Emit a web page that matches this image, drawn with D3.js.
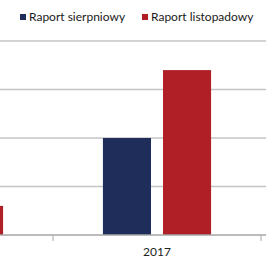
<!DOCTYPE html>
<html>
<head>
<meta charset="utf-8">
<script src="https://d3js.org/d3.v7.min.js"></script>
<style>
body {margin:0; background:#fff;}
text {font-family: Lato, "Open Sans", sans-serif;}
</style>
</head>
<body>
<svg width="266" height="266"></svg>
<script>
// data
var categories = ["2016", "2017"];
var series = ["Raport sierpniowy", "Raport listopadowy"];
var sierpniowy = [null, 2.0];
var listopadowy = [0.6, 3.4];
var yTicks = [1, 2, 3, 4];
var colors = ["#1f2d5a", "#b11f26"];

var svg = d3.select("svg");
var W = 266, baseY = 235, topY = 41;

var x0 = d3.scaleBand().domain(categories).range([-155, 261]).padding(0);
var x1 = d3.scaleBand().domain(series)
  .range([x0.bandwidth() * 0.24, x0.bandwidth() * 0.76])
  .paddingInner(0.2);
var y = d3.scaleLinear().domain([0, 4]).range([baseY, topY]);
var col = d3.scaleOrdinal().domain(series).range(colors);

// gridlines
svg.append("g").selectAll("line").data(yTicks).enter().append("line")
  .attr("x1", 0).attr("x2", W)
  .attr("y1", function(d) { return y(d); })
  .attr("y2", function(d) { return y(d); })
  .attr("stroke", "#c4c4c4").attr("stroke-width", 1.5);

// bars
var rows = [];
categories.forEach(function(c, i) {
  rows.push({cat: c, s: series[0], v: sierpniowy[i]});
  rows.push({cat: c, s: series[1], v: listopadowy[i]});
});
svg.append("g").selectAll("rect")
  .data(rows.filter(function(d) { return d.v != null; }))
  .enter().append("rect")
  .attr("x", function(d) { return x0(d.cat) + x1(d.s); })
  .attr("width", x1.bandwidth())
  .attr("y", function(d) { return y(d.v); })
  .attr("height", function(d) { return baseY - y(d.v); })
  .attr("fill", function(d) { return col(d.s); });

// x axis
var xAxis = svg.append("g").attr("transform", "translate(0," + baseY + ")");
xAxis.append("line").attr("x1", 0).attr("x2", W)
  .attr("stroke", "#a6a6a6").attr("stroke-width", 1.5);
var bounds = categories.map(function(c) { return x0(c) + x0.bandwidth(); });
xAxis.selectAll(".tk").data(bounds).enter().append("line")
  .attr("x1", function(d) { return d; }).attr("x2", function(d) { return d; })
  .attr("y1", 0).attr("y2", 6)
  .attr("stroke", "#a6a6a6").attr("stroke-width", 1);
// only the labels whose category centre is inside the visible area
xAxis.selectAll(".lbl")
  .data(categories.filter(function(c) { return x0(c) + x0.bandwidth() / 2 > 0; }))
  .enter().append("text")
  .attr("x", function(d) { return x0(d) + x0.bandwidth() / 2; })
  .attr("y", 21)
  .attr("text-anchor", "middle")
  .attr("font-size", 12)
  .attr("fill", "#222")
  .text(function(d) { return d; });

// legend
var legX = [20, 142];
var leg = svg.append("g").selectAll("g").data(series).enter().append("g")
  .attr("transform", function(d, i) { return "translate(" + legX[i] + ",17)"; });
leg.append("rect").attr("x", 0).attr("y", -3).attr("width", 6).attr("height", 6)
  .attr("fill", function(d) { return col(d); });
leg.append("text").attr("x", 9).attr("y", 4)
  .attr("font-size", 12).attr("fill", "#1a1a1a")
  .text(function(d) { return d; });
</script>
</body>
</html>
